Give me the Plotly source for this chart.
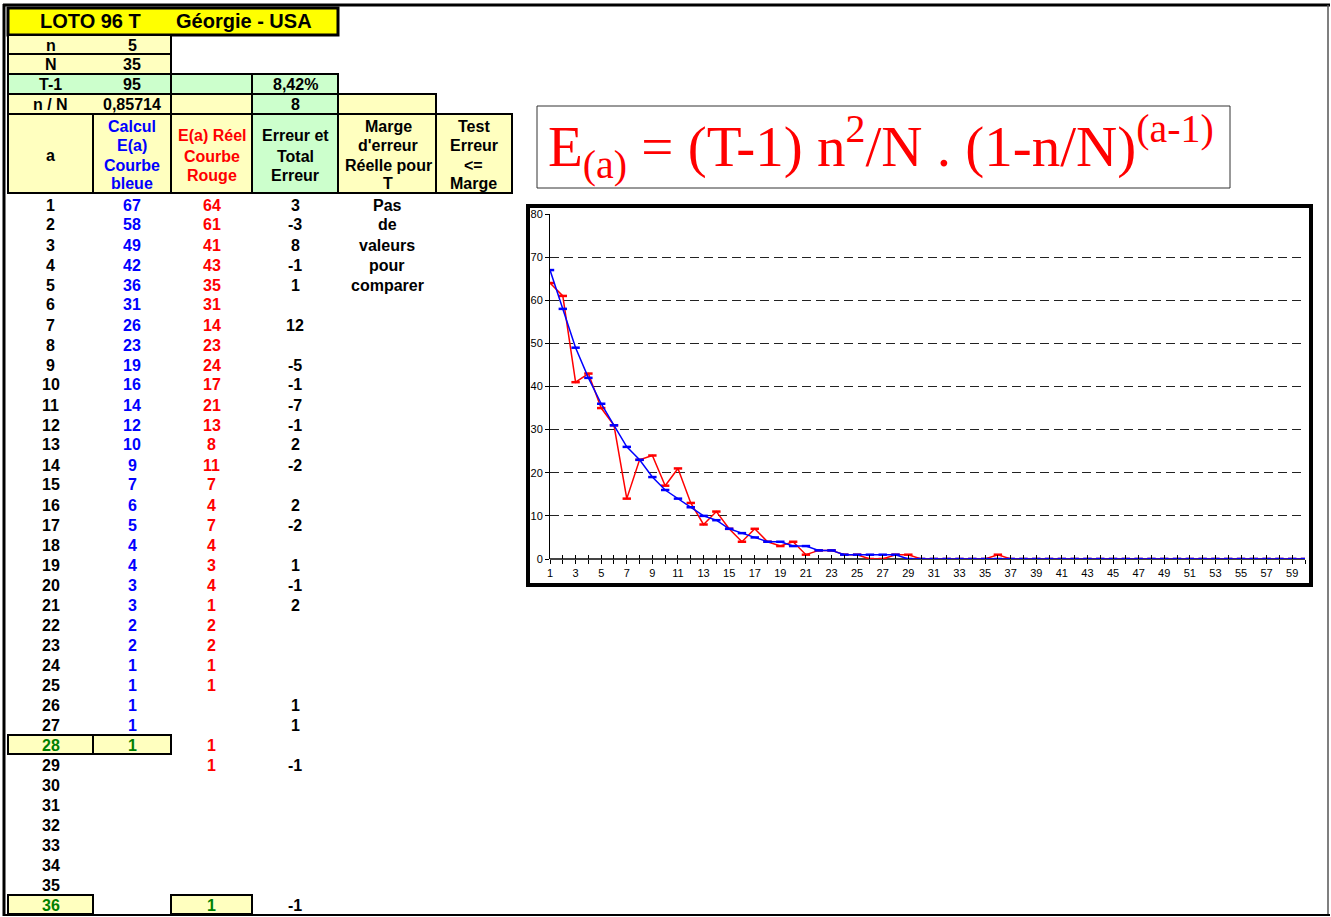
import plotly.graph_objects as go

W, H = 1331, 917

# ---------------- data ----------------
a_chart = list(range(1, 61))
blue_chart = [67, 58, 49, 42, 36, 31, 26, 23, 19, 16, 14, 12, 10, 9, 7, 6, 5, 4, 4, 3,
              3, 2, 2, 1, 1, 1, 1, 1, 0, 0, 0, 0, 0, 0, 0, 0, 0, 0, 0, 0,
              0, 0, 0, 0, 0, 0, 0, 0, 0, 0, 0, 0, 0, 0, 0, 0, 0, 0, 0, 0]
red_chart = [64, 61, 41, 43, 35, 31, 14, 23, 24, 17, 21, 13, 8, 11, 7, 4, 7, 4, 3, 4,
             1, 2, 2, 1, 1, 0, 0, 1, 1, 0, 0, 0, 0, 0, 0, 1, 0, 0, 0, 0,
             0, 0, 0, 0, 0, 0, 0, 0, 0, 0, 0, 0, 0, 0, 0, 0, 0, 0, 0, 0]
y_ticks = [0, 10, 20, 30, 40, 50, 60, 70, 80]
x_ticks = list(range(1, 60, 2))

a_table = list(range(1, 37))
blue_table = [67, 58, 49, 42, 36, 31, 26, 23, 19, 16, 14, 12, 10, 9, 7, 6, 5, 4, 4, 3,
              3, 2, 2, 1, 1, 1, 1, 1, None, None, None, None, None, None, None, None]
red_table = [64, 61, 41, 43, 35, 31, 14, 23, 24, 17, 21, 13, 8, 11, 7, 4, 7, 4, 3, 4,
             1, 2, 2, 1, 1, None, None, 1, 1, None, None, None, None, None, None, 1]
err_table = [3, -3, 8, -1, 1, None, 12, None, -5, -1, -7, -1, 2, -2, None, 2, -2, None, 1, -1,
             2, None, None, None, None, 1, 1, None, -1, None, None, None, None, None, None, -1]
marge_text = ["Pas", "de", "valeurs", "pour", "comparer"]

params = [("n", "5"), ("N", "35"), ("T-1", "95"), ("n / N", "0,85714")]
pct_text = "8,42%"
err_total = "8"

# ---------------- helpers ----------------
def X(px):
    return px / W

def Y(py):
    return 1 - py / H

shapes = []
annotations = []

YEL = "#FFFF00"
PALE = "#FFFFBF"
GREEN = "#CCFFCC"
FONT = "Liberation Sans"
FS = 16

def cell(x0, y0, x1, y1, fill, lw=2):
    shapes.append(dict(type="rect", xref="paper", yref="paper",
                       x0=X(x0), x1=X(x1), y0=Y(y1), y1=Y(y0),
                       fillcolor=fill, line=dict(color="black", width=lw), layer="below"))

def txt(x, y, s, color="black", size=FS, bold=True, family=FONT, xanchor="center"):
    t = f"<b>{s}</b>" if bold else s
    annotations.append(dict(x=X(x), y=Y(y), xref="paper", yref="paper", text=t,
                            showarrow=False, xanchor=xanchor, yanchor="middle",
                            font=dict(family=family, size=size, color=color)))

# outer page frame
shapes.append(dict(type="line", xref="paper", yref="paper", x0=X(4), x1=X(4), y0=Y(916), y1=Y(4),
                   line=dict(color="black", width=3)))
shapes.append(dict(type="line", xref="paper", yref="paper", x0=X(3), x1=X(1330), y0=Y(5), y1=Y(5),
                   line=dict(color="black", width=3)))
shapes.append(dict(type="line", xref="paper", yref="paper", x0=X(1328), x1=X(1328), y0=Y(916), y1=Y(5),
                   line=dict(color="#555555", width=1.5)))
shapes.append(dict(type="line", xref="paper", yref="paper", x0=X(3), x1=X(1330), y0=Y(915), y1=Y(915),
                   line=dict(color="black", width=2)))

# column geometry
cols = [8, 93, 171, 252, 338, 436, 512]
cx = [(cols[i] + cols[i + 1]) / 2 for i in range(6)]

# title
cell(8, 8, 338, 35, YEL, lw=3)
txt(90, 21, "LOTO 96 T", size=20)
txt(244, 21, "Géorgie - USA", size=20)

# parameter rows
row_y = [(35, 54), (54, 74), (74, 94), (94, 114)]
cell(8, 35, 171, 54, PALE)
cell(8, 54, 171, 74, PALE)
cell(8, 74, 171, 94, GREEN)
cell(171, 74, 252, 94, GREEN)
cell(252, 74, 338, 94, GREEN)
cell(8, 94, 171, 114, PALE)
cell(171, 94, 252, 114, PALE)
cell(252, 94, 338, 114, GREEN)
cell(338, 94, 436, 114, PALE)
for (lab, val), (y0, y1) in zip(params, row_y):
    yc = (y0 + y1) / 2 + 0.5
    txt(cx[0], yc, lab)
    txt(cx[1], yc, val)
txt(cx[3], 84.5, pct_text)
txt(cx[3], 104.5, err_total)

# header row
hdr_fill = [PALE, PALE, PALE, GREEN, PALE, PALE]
for i in range(6):
    cell(cols[i], 114, cols[i + 1], 193, hdr_fill[i])
four = [126, 146, 165, 184]
three = [136, 156, 176]
txt(cx[0], 155, "a")
for s, y in zip(["Calcul", "E(a)", "Courbe", "bleue"], four):
    txt(cx[1], y, s, color="#0000FF")
for s, y in zip(["E(a) Réel", "Courbe", "Rouge"], three):
    txt(cx[2], y, s, color="#FF0000")
for s, y in zip(["Erreur et", "Total", "Erreur"], three):
    txt(cx[3], y, s)
for s, y in zip(["Marge", "d'erreur", "Réelle pour", "T"], four):
    txt(cx[4] + 1, y, s)
for s, y in zip(["Test", "Erreur", "<=", "Marge"], four):
    txt(cx[5], y, s)

# data rows
def ry(a):
    return 205 + 20 * (a - 1)

cell(8, ry(28) - 10, 93, ry(28) + 9, PALE)
cell(93, ry(28) - 10, 171, ry(28) + 9, PALE)
cell(8, ry(36) - 10, 93, ry(36) + 9, PALE)
cell(171, ry(36) - 10, 252, ry(36) + 9, PALE)

for i, a in enumerate(a_table):
    y = ry(a)
    txt(cx[0], y, str(a), color="#008000" if a in (28, 36) else "black")
    if blue_table[i] is not None:
        txt(cx[1], y, str(blue_table[i]), color="#008000" if a == 28 else "#0000FF")
    if red_table[i] is not None:
        txt(cx[2], y, str(red_table[i]), color="#008000" if a == 36 else "#FF0000")
    if err_table[i] is not None:
        txt(cx[3], y, str(err_table[i]))
for k, s in enumerate(marge_text):
    txt(387, ry(k + 1), s)

# formula box
shapes.append(dict(type="rect", xref="paper", yref="paper", x0=X(537), x1=X(1230), y0=Y(188), y1=Y(106),
                   line=dict(color="#333333", width=1), fillcolor="white", layer="below"))
annotations.append(dict(x=X(546), y=Y(147), xref="paper", yref="paper",
                        text="E<sub>(a)</sub> = (T-1) n<sup>2</sup>/N . (1-n/N)<sup>(a-1)</sup>",
                        showarrow=False, xanchor="left", yanchor="middle",
                        font=dict(family="Liberation Serif", size=57, color="#FF0000")))

# chart frame
shapes.append(dict(type="rect", xref="paper", yref="paper", x0=X(528), x1=X(1311), y0=Y(585), y1=Y(206),
                   line=dict(color="black", width=4), fillcolor="white", layer="below"))

# ---------------- chart ----------------
fig = go.Figure()
fig.add_trace(go.Scatter(x=a_chart, y=red_chart, mode="lines+markers",
                         line=dict(color="#FF0000", width=1.5),
                         marker=dict(symbol="line-ew", size=6, line=dict(color="#FF0000", width=2.5)),
                         xaxis="x", yaxis="y", showlegend=False, hoverinfo="skip"))
fig.add_trace(go.Scatter(x=a_chart, y=blue_chart, mode="lines+markers",
                         line=dict(color="#0000FF", width=1.5),
                         marker=dict(symbol="line-ew", size=6, line=dict(color="#0000FF", width=2.5)),
                         xaxis="x2", yaxis="y", showlegend=False, hoverinfo="skip"))

xdom = [X(550), X(1305)]
ydom = [Y(559), Y(214)]
fig.update_layout(
    width=W, height=H, margin=dict(l=0, r=0, t=0, b=0, pad=0, autoexpand=False),
    paper_bgcolor="white", plot_bgcolor="rgba(0,0,0,0)",
    shapes=shapes, annotations=annotations, showlegend=False,
    xaxis=dict(domain=xdom, range=[1, 60], tickmode="array", tickvals=x_ticks,
               ticktext=[str(v) for v in x_ticks], ticks="outside", ticklen=4, tickwidth=1,
               tickcolor="black", showgrid=False, zeroline=False, showline=False,
               tickfont=dict(family=FONT, size=11, color="black"), automargin=False,
               minor=dict(dtick=1, tick0=1, ticks="outside", ticklen=4, tickcolor="black", showgrid=False),
               anchor="y", fixedrange=True),
    xaxis2=dict(domain=xdom, range=[1, 60], overlaying="x", anchor="y", dtick=1, tick0=1,
                ticks="inside", ticklen=4, tickcolor="black", showticklabels=False, automargin=False,
                showgrid=False, zeroline=False, showline=False, fixedrange=True),
    yaxis=dict(domain=ydom, range=[0, 80], tickvals=y_ticks, ticks="outside", ticklen=4,
               tickcolor="black", showgrid=True, gridcolor="#222222", griddash="9px,5px", gridwidth=1,
               zeroline=True, zerolinecolor="#444444", zerolinewidth=2, automargin=False,
               showline=True, linecolor="black", linewidth=1,
               tickfont=dict(family=FONT, size=11, color="black"), fixedrange=True),
)

fig.write_html("out.html")
